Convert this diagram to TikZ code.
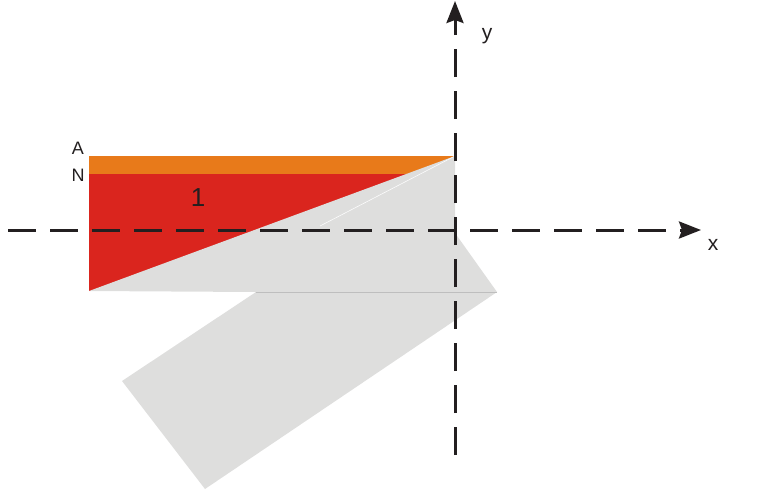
\documentclass[tikz,border=0pt]{standalone}
\usepackage{fontspec}
\setmainfont{Liberation Sans}
\usetikzlibrary{arrows.meta}
\definecolor{orangeband}{RGB}{232,122,26}
\definecolor{redzone}{RGB}{218,37,30}
\definecolor{greyzone}{RGB}{222,222,221}
\definecolor{greyedge}{RGB}{190,190,190}
\definecolor{axiscol}{RGB}{35,31,32}
\tikzset{
  axisline/.style={draw=axiscol, line width=3pt, dash pattern=on 28pt off 14pt,
    -{Stealth[length=22pt,width=17pt,inset=3pt]}},
  lbl/.style={inner sep=0pt, text=axiscol},
}
\begin{document}
\begin{tikzpicture}[x=1pt,y=-1pt]
\useasboundingbox (0,0) rectangle (759,493);
% key points
\coordinate (TL) at (89,156);
\coordinate (NL) at (89,174);
\coordinate (BL) at (89,291);
\coordinate (TR) at (455,156);
\coordinate (NR) at (455,174);
\coordinate (AX) at (455,233);
\coordinate (RR) at (497,292);
\coordinate (BB) at (205,489);
\coordinate (LL) at (122,381);
\coordinate (IN) at (256,292);
% red region
\fill[redzone] (NL) rectangle (TR |- BL);
% orange band
\fill[orangeband] (TL) rectangle (NR);
% grey rotated part
\fill[greyzone] (BL) -- (TR) -- (AX) -- (RR) -- (BB) -- (LL) -- (IN) -- cycle;
\draw[greyedge, line width=0.8pt] (IN) -- (RR);
\draw[white!92!greyzone, line width=0.6pt] (TR) -- (320,226);
% axes
\coordinate (xs) at (8,230);
\coordinate (xe) at (701,230);
\coordinate (ys) at (455,455);
\coordinate (ye) at (455,1);
\draw[axisline] (xs) -- (xe);
\draw[axisline] (ys) -- (ye);
% labels
\node[lbl, font=\fontsize{18}{18}\selectfont] (A) at (78,148) {A};
\node[lbl, font=\fontsize{18}{18}\selectfont] (N) at (78,175) {N};
\node[lbl, font=\fontsize{26}{26}\selectfont] (one) at (198,198) {1};
\node[lbl, font=\fontsize{21}{21}\selectfont] (ylab) at (487,36) {y};
\node[lbl, font=\fontsize{21}{21}\selectfont] (xlab) at (713,245) {x};
\end{tikzpicture}
\end{document}
